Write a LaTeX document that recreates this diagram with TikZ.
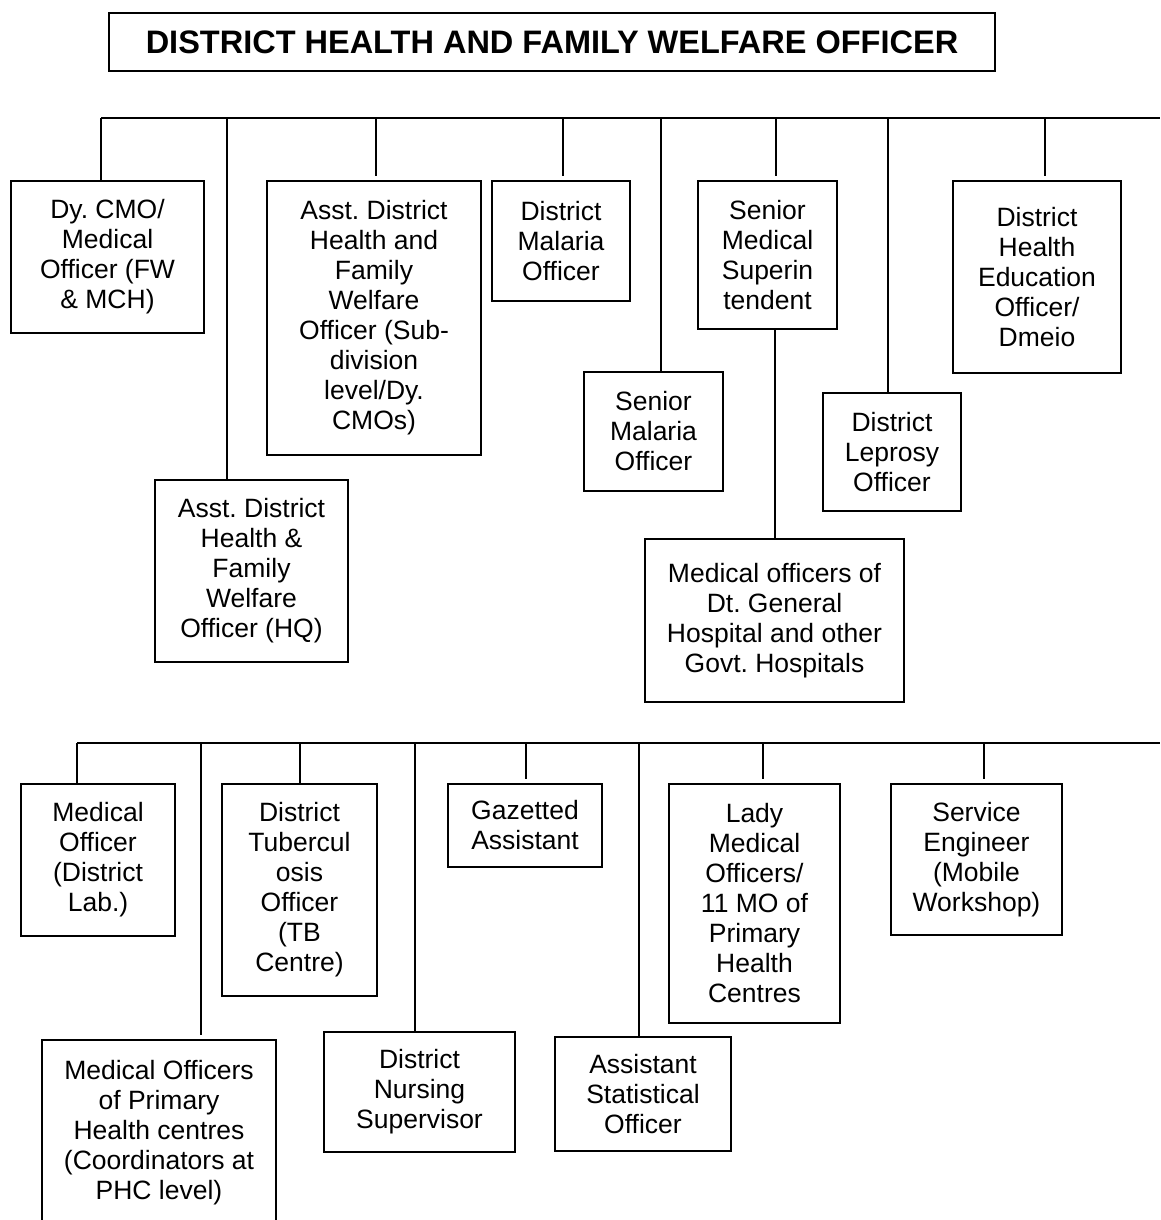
\documentclass[tikz,border=0pt]{standalone}
\usepackage{fontspec}
\setmainfont{Liberation Sans}
\frenchspacing
\begin{document}
\begin{tikzpicture}[x=1pt,y={(0pt,-1pt)},
  line width=1.8pt,
  post/.style={draw, line width=1.8pt, align=center, inner sep=0pt,
    font=\fontsize{26.5}{30}\selectfont},
  headbox/.style={draw, line width=1.8pt, inner sep=0pt,
    font=\fontsize{32.5}{38}\selectfont\bfseries},
  wire/.style={line width=1.8pt},
  gap/.style={shorten >=4pt}]
\useasboundingbox (0,0) rectangle (1160,1220);

% head of the office
\node[headbox, minimum width=886pt, minimum height=58pt] (head) at (552,42)
  {DISTRICT HEALTH AND FAMILY WELFARE OFFICER};

% first tier
\node[post, minimum width=193pt, minimum height=152pt] (dycmo) at (107.5,257)
  {Dy. CMO/\\Medical\\Officer (FW\\\& MCH)};
\node[post, minimum width=193pt, minimum height=182pt] (hq) at (251.5,571)
  {Asst. District\\Health \&\\Family\\Welfare\\Officer (HQ)};
\node[post, minimum width=214pt, minimum height=274pt] (adhfw) at (374,318)
  {Asst. District\\Health and\\Family\\Welfare\\Officer (Sub-\\division\\level/Dy.\\CMOs)};
\node[post, minimum width=138pt, minimum height=120pt] (dmo) at (561,241)
  {District\\Malaria\\Officer};
\node[post, minimum width=139pt, minimum height=119pt] (smo) at (653.5,431.5)
  {Senior\\Malaria\\Officer};
\node[post, minimum width=139pt, minimum height=148pt] (sms) at (767.5,255)
  {Senior\\Medical\\Superin\\tendent};
\node[post, minimum width=259pt, minimum height=163pt] (mogh) at (774.5,620.5)
  {Medical officers of\\Dt. General\\Hospital and other\\Govt. Hospitals};
\node[post, minimum width=138pt, minimum height=118pt] (dlo) at (892,452)
  {District\\Leprosy\\Officer};
\node[post, minimum width=168pt, minimum height=192pt] (dheo) at (1037,277)
  {District\\Health\\Education\\Officer/\\Dmeio};

% first tier bus and drops
\coordinate (busA) at (101,118);
\coordinate (busAend) at (1160,118);
\draw[wire] (busA) -- (busAend);
\coordinate (a1) at (101,118);
\coordinate (a2) at (227,118);
\coordinate (a3) at (376,118);
\coordinate (a4) at (563,118);
\coordinate (a5) at (661,118);
\coordinate (a6) at (776,118);
\coordinate (a7) at (888,118);
\coordinate (a8) at (1045,118);
\draw[wire] (a1) -- (a1 |- dycmo.north);
\draw[wire] (a2) -- (a2 |- hq.north);
\draw[wire, gap] (a3) -- (a3 |- adhfw.north);
\draw[wire, gap] (a4) -- (a4 |- dmo.north);
\draw[wire] (a5) -- (a5 |- smo.north);
\draw[wire, gap] (a6) -- (a6 |- sms.north);
\draw[wire] (a7) -- (a7 |- dlo.north);
\draw[wire, gap] (a8) -- (a8 |- dheo.north);
\coordinate (s1) at (775,0);
\draw[wire] (s1 |- sms.south) -- (s1 |- mogh.north);

% second tier
\node[post, minimum width=154pt, minimum height=152pt] (lab) at (98,860)
  {Medical\\Officer\\(District\\Lab.)};
\node[post, minimum width=234pt, minimum height=186pt] (phc) at (159,1133)
  {Medical Officers\\of Primary\\Health centres\\(Coordinators at\\PHC level)};
\node[post, minimum width=155pt, minimum height=212pt] (tb) at (299.5,890)
  {District\\Tubercul\\osis\\Officer\\(TB\\Centre)};
\node[post, minimum width=191pt, minimum height=120pt] (nurs) at (419.5,1092)
  {District\\Nursing\\Supervisor};
\node[post, minimum width=154pt, minimum height=83pt] (gaz) at (525,825.5)
  {Gazetted\\Assistant};
\node[post, minimum width=176pt, minimum height=114pt] (ast) at (643,1094)
  {Assistant\\Statistical\\Officer};
\node[post, minimum width=171pt, minimum height=239pt] (lady) at (754.5,903.5)
  {Lady\\Medical\\Officers/\\11 MO of\\Primary\\Health\\Centres};
\node[post, minimum width=171pt, minimum height=151pt] (se) at (976.5,859.5)
  {Service\\Engineer\\(Mobile\\Workshop)};

% second tier bus and drops
\coordinate (busB) at (77,743);
\coordinate (busBend) at (1160,743);
\draw[wire] (busB) -- (busBend);
\coordinate (b1) at (77,743);
\coordinate (b2) at (201,743);
\coordinate (b3) at (300,743);
\coordinate (b4) at (415,743);
\coordinate (b5) at (526,743);
\coordinate (b6) at (639,743);
\coordinate (b7) at (763,743);
\coordinate (b8) at (984,743);
\draw[wire] (b1) -- (b1 |- lab.north);
\draw[wire, gap] (b2) -- (b2 |- phc.north);
\draw[wire] (b3) -- (b3 |- tb.north);
\draw[wire] (b4) -- (b4 |- nurs.north);
\draw[wire, gap] (b5) -- (b5 |- gaz.north);
\draw[wire] (b6) -- (b6 |- ast.north);
\draw[wire, gap] (b7) -- (b7 |- lady.north);
\draw[wire, gap] (b8) -- (b8 |- se.north);
\end{tikzpicture}
\end{document}
